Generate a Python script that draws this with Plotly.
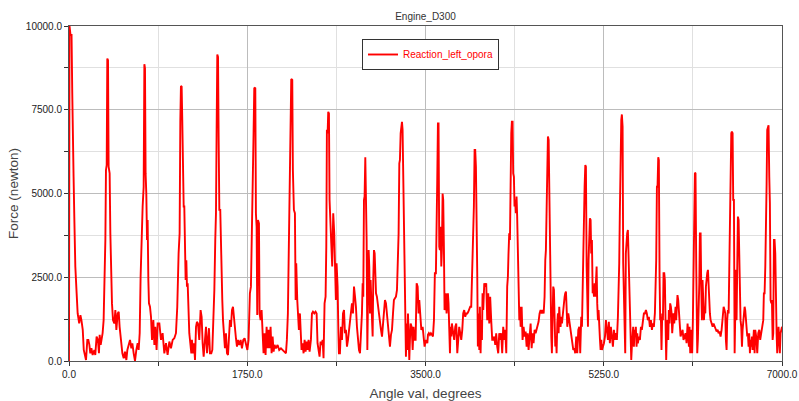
import plotly.graph_objects as go

# ---- data (angle in degrees, force in newton) ----
angle_1 = [0, 5, 15, 25, 32, 38, 45, 52, 62, 75, 85, 100, 112, 122, 135, 145, 155, 167, 180, 190, 200, 209, 220, 232, 249, 258, 271, 284, 294, 301, 311, 320, 330, 340, 350, 357, 363, 370, 376, 383, 389, 399, 406, 412, 422, 432, 445, 455, 465, 478, 488, 497, 510, 524, 537, 550, 563, 573, 586, 599, 612, 622, 635, 648, 661, 674, 684, 694, 703, 713, 723, 733, 740, 746, 752, 759, 766, 772, 779, 785, 795, 805, 815, 828, 838, 847, 860]
force_1 = [0, 10000, 9730, 9730, 8000, 6000, 5500, 4310, 2820, 2020, 1420, 1120, 1370, 1220, 930, 330, 180, 30, 630, 630, 480, 230, 380, 180, 330, 180, 730, 630, 230, 780, 480, 630, 830, 1220, 2220, 3610, 5700, 5850, 9030, 8980, 5800, 5600, 3810, 2420, 1720, 1220, 1120, 1520, 930, 1420, 1470, 1020, 630, 230, 80, 280, 30, 330, 480, 630, 380, 530, 230, 0, 330, 530, 330, 830, 2520, 4010, 4610, 5200, 8860, 8740, 5600, 5000, 3610, 4210, 2420, 1720, 1620, 1320, 630, 1220, 480, 1020, 330]

angle_2 = [870, 887, 903, 919, 936, 952, 968, 985, 1001, 1018, 1034, 1050, 1063, 1076, 1086, 1093, 1099, 1106, 1112, 1119, 1126, 1132, 1139, 1145, 1152, 1158, 1165, 1171, 1181, 1191, 1201, 1207, 1217, 1227, 1237, 1247, 1256, 1266, 1279, 1292, 1302, 1312, 1322, 1335, 1345, 1355, 1364, 1374, 1384, 1397, 1407, 1417, 1427, 1436, 1443, 1449, 1456, 1463, 1469, 1476, 1485, 1492, 1499, 1505, 1512, 1521, 1531, 1541, 1551, 1561, 1571, 1580, 1590, 1600, 1610, 1620, 1629, 1639, 1649, 1659, 1672, 1685, 1698, 1711, 1724, 1737, 1751]
force_2 = [1120, 1120, 630, 830, 230, 530, 180, 580, 380, 630, 680, 830, 1620, 3210, 3810, 7190, 8210, 8190, 7190, 5700, 4610, 4610, 3410, 2420, 3010, 2220, 2320, 1520, 830, 530, 230, 630, 230, 530, 30, 1020, 1170, 1120, 630, 1520, 1320, 530, 130, 630, 1020, 230, 630, 980, 230, 230, 330, 1220, 2120, 3610, 4410, 6750, 9150, 9080, 6700, 4510, 4510, 3210, 2420, 1820, 1220, 630, 380, 830, 230, 180, 630, 1220, 1020, 1520, 1620, 1220, 1120, 680, 430, 630, 480, 630, 380, 630, 680, 530, 330]

angle_3 = [1763, 1776, 1786, 1796, 1806, 1812, 1819, 1829, 1835, 1842, 1848, 1855, 1865, 1871, 1881, 1891, 1901, 1910, 1920, 1930, 1940, 1950, 1959, 1969, 1979, 1989, 1999, 2009, 2018, 2031, 2048, 2064, 2081, 2097, 2113, 2130, 2139, 2149, 2156, 2166, 2175, 2182, 2192, 2198, 2208, 2218, 2225, 2231, 2241, 2247, 2257, 2267, 2274, 2283, 2293, 2303, 2313, 2323, 2333, 2342, 2352, 2362, 2375, 2385, 2395, 2408, 2421, 2431, 2440, 2450, 2460, 2470, 2480, 2490, 2499, 2509, 2519, 2526, 2532, 2539, 2545, 2552, 2558, 2565, 2575, 2584, 2594, 2604, 2614, 2620, 2627, 2637]
force_3 = [630, 2020, 2220, 3810, 4810, 6800, 8160, 8140, 4410, 4010, 1370, 4210, 4110, 1420, 1220, 1520, 830, 230, 830, 180, 1020, 380, 930, 380, 1020, 230, 730, 280, 480, 380, 480, 330, 380, 330, 280, 230, 630, 1420, 2920, 4760, 5800, 8420, 8390, 5700, 4510, 4410, 1820, 2920, 1820, 1420, 930, 1420, 1020, 330, 530, 230, 630, 280, 580, 330, 630, 280, 630, 1420, 1470, 1420, 1470, 1420, 530, 230, 130, 580, 480, 630, 80, 1720, 1920, 3410, 6900, 6800, 7440, 7390, 4810, 4410, 3510, 2820, 4410, 3810, 2620, 1820, 2920, 2220]

angle_4 = [2645, 2650, 2660, 2670, 2680, 2690, 2700, 2709, 2719, 2729, 2739, 2749, 2758, 2768, 2778, 2788, 2798, 2808, 2817, 2827, 2837, 2847, 2857, 2866, 2876, 2883, 2889, 2896, 2902, 2909, 2915, 2922, 2929, 2935, 2942, 2948, 2955, 2961, 2968, 2974, 2981, 2987, 2994, 3001, 3007, 3014, 3023, 3033, 3043, 3053, 3063, 3073, 3082, 3092, 3102, 3112, 3122, 3131, 3141, 3151, 3161, 3171, 3181, 3190, 3200, 3210, 3220, 3230, 3236, 3243, 3249, 3256, 3262, 3269, 3275, 3282, 3288, 3295, 3302, 3308, 3315, 3321, 3328, 3334, 3341, 3347, 3354, 3364, 3374, 3383, 3393, 3403, 3413, 3423, 3432, 3439, 3449, 3459, 3472, 3482, 3491, 3504, 3518]
force_4 = [830, 230, 230, 1020, 630, 1420, 1520, 830, 930, 430, 630, 930, 1220, 1620, 1720, 1420, 2220, 1920, 1620, 1020, 630, 330, 230, 730, 1420, 2320, 1920, 4810, 4910, 6080, 4910, 3610, 330, 1420, 3310, 2820, 1420, 2420, 1920, 1220, 730, 2420, 3310, 3210, 2420, 2020, 1920, 1620, 1420, 1220, 930, 730, 1020, 1320, 1820, 1720, 1420, 1220, 930, 430, 780, 930, 1420, 1820, 1870, 1920, 2120, 2920, 3810, 5900, 6000, 6800, 7090, 7140, 6900, 5600, 4010, 2620, 2220, 130, 1120, 330, 1420, 230, 30, 630, 1120, 1020, 330, 1020, 630, 630, 2320, 2220, 1420, 1820, 1220, 930, 1020, 730, 430, 630, 530]

angle_5 = [3524, 3533, 3543, 3553, 3563, 3573, 3583, 3592, 3602, 3609, 3615, 3622, 3628, 3635, 3641, 3648, 3655, 3661, 3668, 3674, 3681, 3687, 3694, 3700, 3707, 3713, 3720, 3726, 3733, 3740, 3746, 3753, 3759, 3766, 3772, 3782, 3792, 3802, 3812, 3821, 3831, 3841, 3851, 3861, 3870, 3880, 3890, 3900, 3910, 3920, 3929, 3939, 3949, 3956, 3962, 3969, 3975, 3982, 3988, 3995, 4001, 4008, 4014, 4021, 4028, 4034, 4041, 4047, 4054, 4060, 4067, 4077, 4086, 4096, 4106, 4116, 4126, 4135, 4145, 4155, 4165, 4175, 4185, 4194, 4204, 4214, 4224, 4234, 4243, 4253, 4263, 4273, 4283, 4293, 4302, 4309, 4315, 4322, 4329, 4335, 4342, 4348, 4355, 4361, 4368, 4374, 4381, 4387, 4394, 4400]
force_5 = [780, 830, 780, 830, 780, 730, 1220, 2620, 2620, 3610, 5300, 7090, 7090, 3410, 3310, 4010, 2820, 3310, 5000, 4810, 3310, 1520, 1720, 2020, 1420, 1920, 2020, 1720, 1220, 230, 1020, 730, 1120, 930, 830, 630, 1020, 1120, 230, 830, 1020, 830, 630, 930, 1420, 1520, 1320, 1420, 1420, 1470, 1520, 1620, 1620, 2420, 3010, 3110, 4610, 6300, 6300, 5800, 2820, 2620, 430, 1420, 330, 1620, 230, 1220, 630, 2020, 1520, 2320, 2220, 2320, 1220, 2020, 1120, 1920, 1220, 630, 630, 730, 480, 830, 430, 230, 830, 630, 830, 230, 1020, 630, 930, 230, 2220, 2520, 3210, 3810, 3610, 6800, 6800, 7140, 7140, 5600, 5500, 4610, 4810, 4410, 4910, 4310]

angle_6 = [4408, 4414, 4421, 4427, 4434, 4444, 4453, 4463, 4473, 4483, 4493, 4503, 4512, 4522, 4532, 4542, 4552, 4561, 4571, 4581, 4591, 4601, 4610, 4620, 4630, 4640, 4650, 4660, 4669, 4676, 4682, 4689, 4696, 4702, 4709, 4715, 4722, 4728, 4735, 4741, 4748, 4754, 4761, 4768, 4774, 4781, 4787, 4794, 4800, 4807, 4813, 4820, 4826, 4833, 4840, 4846, 4853, 4859, 4866, 4872, 4879, 4885, 4892, 4902, 4912, 4921, 4931, 4941, 4951, 4961, 4970, 4980, 4990, 5000, 5010, 5019, 5029, 5036, 5042, 5049, 5055, 5062, 5069, 5075, 5082, 5088, 5095, 5101, 5108, 5114, 5121, 5127, 5134, 5141, 5147, 5154, 5160, 5167, 5173, 5180, 5186, 5193, 5199, 5206, 5213, 5219, 5226, 5232, 5242, 5252, 5262, 5271, 5281]
force_6 = [2620, 2220, 1220, 1620, 1020, 1620, 630, 1020, 730, 880, 430, 830, 330, 730, 1120, 380, 830, 530, 930, 830, 930, 1020, 1170, 1420, 1520, 1420, 1520, 1420, 1920, 3010, 3310, 4510, 6600, 6700, 6600, 4810, 3210, 1220, 730, 230, 1020, 2220, 2120, 1220, 430, 730, 230, 1120, 1420, 830, 1620, 1220, 1020, 1320, 1120, 1320, 1620, 1720, 1920, 2020, 2070, 1620, 1020, 1420, 1220, 930, 730, 580, 330, 380, 230, 730, 230, 930, 1020, 230, 1320, 1020, 2220, 3010, 5200, 5200, 5850, 5800, 2820, 2020, 1020, 3010, 4210, 4260, 4210, 3210, 3610, 2020, 2220, 1920, 2320, 1920, 2820, 2820, 1720, 1220, 1520, 830, 630, 330, 630, 330, 430, 530, 730, 1220, 930]

angle_7 = [5291, 5300, 5310, 5320, 5330, 5340, 5350, 5359, 5369, 5379, 5389, 5395, 5402, 5408, 5415, 5422, 5428, 5435, 5441, 5448, 5454, 5461, 5467, 5474, 5480, 5487, 5493, 5500, 5507, 5513, 5520, 5526, 5533, 5539, 5546, 5552, 5559, 5565, 5572, 5579, 5585, 5595, 5605, 5615, 5624, 5634, 5644, 5654, 5664, 5673, 5683, 5693, 5703, 5713, 5723, 5732, 5742, 5752, 5759, 5765, 5772, 5778, 5785, 5791, 5798, 5804, 5811, 5817, 5824, 5831, 5837, 5844, 5850, 5857, 5863, 5870, 5876, 5883, 5889, 5896, 5902, 5909, 5916, 5922, 5929, 5935, 5942, 5948, 5955, 5961, 5968, 5974, 5981, 5988, 5994, 6004, 6014, 6024, 6033, 6043, 6053, 6063, 6073, 6079, 6086, 6092, 6099, 6105, 6112, 6118, 6125, 6132, 6138, 6145, 6151, 6158, 6164]
force_7 = [630, 1170, 530, 1020, 730, 430, 930, 630, 830, 630, 1320, 2920, 2920, 4410, 6300, 7190, 7360, 7000, 2920, 2020, 630, 230, 3210, 3610, 3810, 3910, 3210, 2220, 1420, 130, 30, 430, 730, 1020, 430, 930, 730, 1020, 430, 830, 530, 730, 630, 1020, 930, 1120, 1420, 1420, 1520, 1420, 1220, 1320, 1020, 1220, 930, 1120, 1020, 1420, 2020, 3010, 5200, 5200, 6080, 6000, 2520, 1220, 1320, 330, 1420, 1220, 2620, 2620, 2420, 1220, 30, 930, 1220, 630, 1520, 1120, 1720, 1620, 1420, 830, 1220, 1420, 1120, 1520, 1620, 1220, 1920, 1970, 1820, 1420, 1020, 730, 830, 930, 630, 730, 830, 530, 1120, 830, 430, 1020, 230, 930, 630, 230, 1220, 2820, 4210, 5620, 5600, 2820, 530]

angle_8 = [6168, 6174, 6181, 6188, 6194, 6201, 6207, 6214, 6220, 6227, 6234, 6240, 6247, 6253, 6260, 6266, 6273, 6279, 6286, 6292, 6299, 6309, 6319, 6328, 6338, 6348, 6358, 6368, 6377, 6387, 6397, 6407, 6417, 6427, 6436, 6443, 6449, 6456, 6462, 6469, 6476, 6482, 6489, 6495, 6502, 6508, 6515, 6521, 6528, 6535, 6541, 6548, 6554, 6561, 6567, 6574, 6580, 6587, 6593, 6600, 6607, 6613, 6620, 6626, 6633, 6639, 6646, 6652, 6659, 6665, 6672, 6678, 6685, 6692, 6698, 6705, 6711, 6718, 6724, 6731, 6737, 6747, 6757, 6767, 6777, 6786, 6796, 6806, 6816, 6822, 6829, 6836, 6842, 6849, 6855, 6862, 6868, 6875, 6881, 6888, 6895, 6901, 6908, 6914, 6921, 6927, 6934, 6940, 6947, 6953, 6960, 6966, 6973, 6979, 6986, 6992, 7000]
force_8 = [230, 630, 1220, 2320, 3810, 3810, 2220, 1220, 2420, 1520, 1220, 1620, 1420, 2220, 2620, 2620, 2720, 2220, 2020, 1420, 1220, 1120, 1020, 1120, 1020, 930, 880, 930, 830, 880, 730, 930, 1420, 1620, 1520, 1420, 630, 330, 1220, 1520, 1420, 2820, 4710, 4710, 6800, 6850, 6800, 4810, 4810, 230, 2620, 2720, 1220, 4210, 4310, 4210, 3010, 2220, 1220, 1020, 430, 930, 1220, 1520, 1620, 1520, 1220, 1020, 730, 830, 430, 830, 230, 630, 430, 730, 330, 630, 930, 230, 930, 730, 230, 830, 930, 630, 830, 930, 1220, 2020, 2020, 2820, 5300, 5300, 6900, 7010, 7040, 5500, 4710, 1820, 1720, 1820, 630, 830, 3610, 3610, 3210, 1220, 830, 230, 630, 1020, 630, 230, 830, 930, 1020]

series_name = "Reaction_left_opora"
chart_title = "Engine_D300"
x_label = "Angle val, degrees"
y_label = "Force (newton)"

angle_parts = [angle_1, angle_2, angle_3, angle_4, angle_5, angle_6, angle_7, angle_8]
force_parts = [force_1, force_2, force_3, force_4, force_5, force_6, force_7, force_8]
angle, force = [], []
for i, (a, f) in enumerate(zip(angle_parts, force_parts)):
    assert len(a) == len(f), (i + 1, len(a), len(f))
    angle += a
    force += f

FONT = "Liberation Sans, Arial, sans-serif"

fig = go.Figure()
fig.add_trace(go.Scatter(
    x=angle, y=force, mode="lines", name=series_name,
    line=dict(color="#ff0000", width=1.9),
))

axis_common = dict(
    showline=True, linecolor="#555555", linewidth=1, mirror=True,
    showgrid=True, gridcolor="#bcbcbc", gridwidth=1,
    zeroline=False, automargin=False,
    ticks="outside", ticklen=4, tickcolor="#333333",
    tickformat=".1f",
    tickfont=dict(family=FONT, size=10, color="#222222"),
)

fig.update_layout(
    width=799, height=401,
    margin=dict(l=69, r=17, t=26, b=40),
    paper_bgcolor="white", plot_bgcolor="white",
    font=dict(family=FONT, color="#333333"),
    title=dict(text=chart_title, x=0.5, xref="paper", xanchor="center",
               y=1 - 16 / 401, yref="container", yanchor="middle", automargin=False,
               font=dict(family=FONT, size=10, color="#333333")),
    showlegend=True,
    legend=dict(x=(362 - 69) / 713, y=(361 - 39) / 335, xanchor="left", yanchor="top",
                bordercolor="#333333", borderwidth=1, bgcolor="white",
                font=dict(family=FONT, size=10, color="#ff0000")),
    xaxis=dict(
        range=[0, 7000], tick0=0, dtick=1750,
        minor=dict(tick0=0, dtick=875, showgrid=True, gridcolor="#e0e0e0",
                   ticks="outside", ticklen=4, tickcolor="#333333"),
        title=dict(text=x_label, standoff=11,
                   font=dict(family=FONT, size=13.5, color="#444444")),
        **axis_common,
    ),
    yaxis=dict(
        range=[0, 10000], tick0=0, dtick=2500,
        minor=dict(tick0=0, dtick=1250, showgrid=True, gridcolor="#e0e0e0",
                   ticks="outside", ticklen=4, tickcolor="#333333"),
        title=dict(text=y_label, standoff=4,
                   font=dict(family=FONT, size=13.5, color="#444444")),
        **axis_common,
    ),
)

fig.write_html("out.html")
